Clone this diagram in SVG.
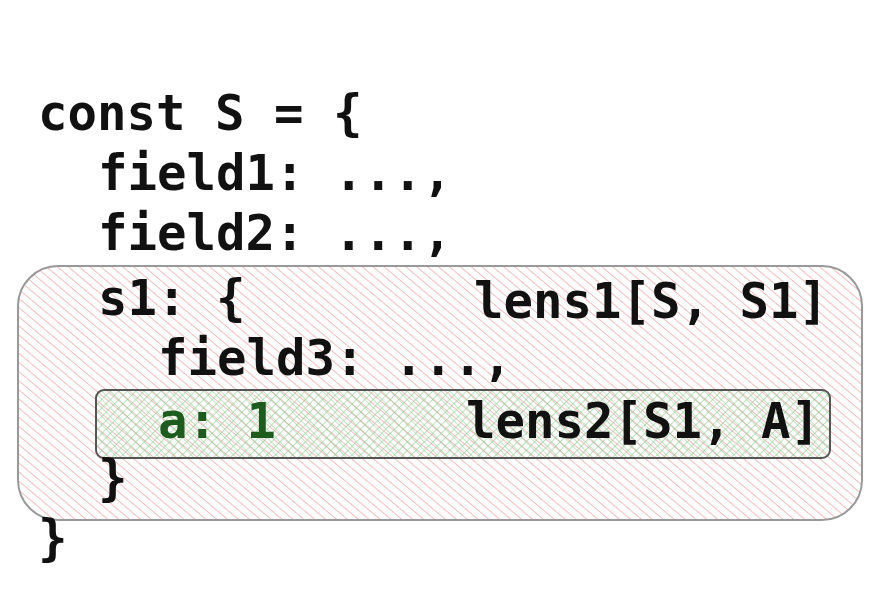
<svg xmlns="http://www.w3.org/2000/svg" width="880" height="592" viewBox="0 0 880 592">
<defs>
<pattern id="hr" width="7" height="7" patternUnits="userSpaceOnUse" patternTransform="rotate(-50)"><line x1="0" y1="0" x2="0" y2="7" stroke="#eb9a9a" stroke-width="1.3"/></pattern>
<pattern id="hg" width="6" height="6" patternUnits="userSpaceOnUse" patternTransform="rotate(45)"><path d="M0 0V6M0 0H6" stroke="#86c886" stroke-width="1.1"/></pattern>
<style>text{font-family:"DejaVu Sans Mono","Liberation Mono",monospace;font-size:49px;font-weight:bold;fill:#111}</style>
</defs>
<rect width="880" height="592" fill="#fff"/>
<g id="outer"><rect x="18" y="266" width="844" height="254" rx="40" fill="url(#hr)" stroke="#999" stroke-width="2"/></g>
<g id="inner"><rect x="96" y="390" width="734" height="68" rx="8" fill="url(#hg)" stroke="#555" stroke-width="2"/></g>
<g id="code">
<text x="38" y="130">const S = {</text>
<text x="98" y="190">field1: ...,</text>
<text x="98" y="250">field2: ...,</text>
<text x="98" y="315">s1: {</text>
<text x="474" y="318">lens1[S, S1]</text>
<text x="158" y="375">field3: ...,</text>
<text x="158" y="438" style="fill:#1d5c1d">a: 1</text>
<text x="466" y="438">lens2[S1, A]</text>
<text x="98" y="495">}</text>
<text x="38" y="555">}</text>
</g>
<g id="connectors"/>
</svg>
